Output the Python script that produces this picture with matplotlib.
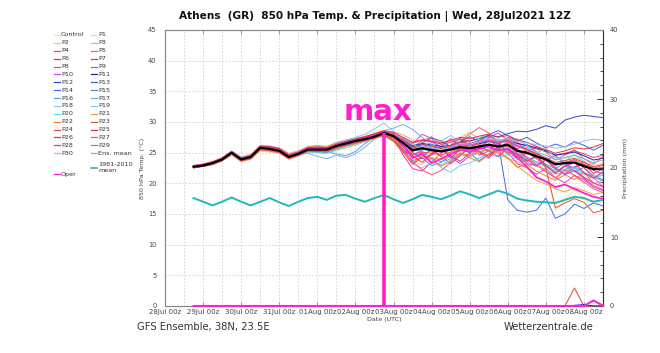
import matplotlib
matplotlib.use('Agg')
import matplotlib.pyplot as plt
import matplotlib.dates as mdates
from matplotlib.lines import Line2D
import numpy as np
import pandas as pd

# ---------------- data ----------------
times = pd.date_range('2021-07-28 18:00', periods=44, freq='6h')

t_control = [22.6,23.0,23.4,24.0,25.1,24.1,24.4,25.9,25.8,25.5,24.6,25.0,25.7,25.9,25.6,26.3,26.8,27.3,27.8,28.4,28.6,
             27.9,26.2,25.0,24.8,25.3,25.6,26.0,26.4,25.8,26.2,26.5,26.0,25.8,25.5,25.1,24.3,22.1,15.6,17.2,18.9,17.4,16.3,17.0]
t_p1 = [22.8,23.1,23.2,23.7,24.7,23.8,24.1,25.6,25.5,25.2,24.1,24.6,25.2,25.1,25.3,25.8,26.3,26.6,27.0,27.5,28.0,
        27.5,26.8,25.9,26.2,26.0,25.4,25.9,26.5,26.1,26.6,27.0,26.5,26.9,26.2,25.8,25.2,24.6,23.8,24.1,24.5,23.6,22.9,23.4]
t_p2 = [22.5,22.7,23.0,23.6,24.6,23.5,23.9,25.3,25.1,24.9,23.9,24.5,25.1,25.0,24.9,25.5,26.0,26.4,26.8,27.3,27.8,
        27.0,25.2,23.6,23.0,24.8,25.9,26.8,25.1,24.2,25.0,26.4,27.3,26.1,24.3,23.5,24.6,23.0,21.8,22.9,21.2,20.0,21.5,20.3]
t_p3 = [22.9,23.2,23.6,24.2,25.3,24.3,24.7,26.2,26.1,25.8,24.9,25.3,26.0,26.2,26.0,26.7,27.1,27.4,27.6,28.1,28.5,
        28.4,27.9,27.1,26.0,25.2,24.6,25.8,27.4,28.3,27.2,26.0,24.8,24.0,23.6,22.5,23.4,22.0,20.8,21.9,22.6,21.0,19.9,20.6]
t_p4 = [22.7,22.8,23.1,23.9,24.9,23.8,24.2,25.7,25.6,25.3,24.5,24.9,25.4,25.3,25.2,25.8,26.2,26.7,27.0,27.4,27.9,
        27.6,26.5,25.2,25.8,25.6,25.1,25.4,26.1,26.0,26.4,26.9,26.6,27.0,26.1,25.5,24.8,24.0,23.0,23.4,23.9,23.1,22.5,22.9]
t_p5 = [22.6,23.0,23.3,24.1,25.2,24.0,24.5,26.0,25.9,25.6,24.4,24.7,25.3,25.4,25.7,26.3,26.7,27.0,27.4,27.9,28.4,
        28.0,27.0,25.8,26.9,27.6,26.3,25.5,26.9,28.0,29.1,28.2,26.5,25.2,24.0,24.9,26.0,25.1,23.8,24.6,25.5,24.0,23.1,24.4]
t_p6 = [22.8,22.9,23.2,23.8,24.8,23.7,24.0,25.5,25.3,25.0,24.0,24.6,25.2,25.3,25.4,26.0,26.4,26.8,27.1,27.5,28.1,
        27.2,25.1,23.1,24.3,25.6,24.4,23.2,24.5,25.9,25.0,24.1,25.6,26.8,25.5,23.9,22.8,23.9,22.3,21.5,22.7,23.1,21.6,22.4]
t_p7 = [22.7,23.1,23.5,24.0,25.0,24.2,24.6,26.1,26.0,25.7,24.7,25.1,25.8,25.8,25.8,26.4,26.8,27.2,27.6,28.0,28.5,
        28.1,27.3,26.6,27.0,26.8,26.4,26.7,27.2,26.9,27.3,27.6,27.0,27.3,26.5,26.1,25.6,25.2,24.6,24.9,25.3,24.8,24.2,24.6]
t_p8 = [22.6,22.8,23.1,23.7,24.9,23.9,24.3,25.7,25.5,25.1,24.2,24.7,25.4,25.4,25.3,26.0,26.3,26.8,27.1,27.5,28.2,
        27.5,24.6,22.4,22.0,23.5,24.9,26.2,27.4,26.0,24.6,25.3,26.7,25.0,23.2,22.6,21.5,22.4,20.9,20.1,21.3,20.6,19.4,18.8]
t_p9 = [22.8,23.0,23.4,24.0,25.0,24.0,24.4,25.8,25.7,25.4,24.4,24.9,25.6,25.6,25.6,26.2,26.6,27.0,27.4,27.8,28.3,
        28.0,27.2,26.4,28.0,27.3,25.6,24.3,23.2,24.5,25.8,27.0,26.2,27.5,26.8,25.1,24.0,22.7,21.8,22.9,22.0,20.8,19.6,19.0]
t_p10 = [22.7,22.9,23.3,23.9,25.1,24.0,24.3,25.9,25.8,25.4,24.3,24.8,25.5,25.5,25.5,26.1,26.5,26.9,27.3,27.7,28.3,
         27.6,26.3,24.6,25.4,26.7,26.0,27.3,26.1,25.0,26.2,27.5,28.2,27.0,25.6,26.4,25.1,23.8,24.5,23.2,22.4,23.6,22.1,21.5]
t_p11 = [22.6,22.8,23.2,23.8,24.9,23.9,24.2,25.7,25.6,25.3,24.3,24.9,25.6,25.7,25.6,26.2,26.6,27.0,27.3,27.7,28.2,
         27.7,26.9,26.1,26.5,26.3,26.0,26.2,26.6,26.3,26.5,26.8,26.6,27.0,26.5,26.2,25.8,25.3,24.6,24.8,25.1,24.5,23.8,24.1]
t_p12 = [22.8,23.0,23.4,24.1,25.2,24.1,24.5,26.0,25.9,25.6,24.6,25.1,25.9,26.0,25.9,26.5,26.9,27.2,27.5,27.9,28.4,
         27.9,27.0,26.1,26.4,26.0,25.7,26.1,26.8,26.9,27.3,27.8,27.6,28.1,28.5,28.4,28.8,29.4,29.0,30.3,30.8,31.1,30.9,30.7]
t_p13 = [22.5,22.8,23.1,23.7,24.8,23.7,24.1,25.6,25.4,25.1,24.1,24.6,25.3,25.2,25.2,25.8,26.2,26.6,26.9,27.3,27.9,
         27.4,26.0,25.2,26.6,27.4,26.9,26.0,26.8,27.6,26.9,27.9,28.6,27.8,26.9,27.5,26.6,25.8,26.4,25.9,26.8,26.2,25.4,26.2]
t_p14 = [22.7,22.9,23.3,23.9,25.0,23.9,24.3,25.8,25.7,25.4,24.4,24.9,25.6,25.5,25.5,26.1,26.5,26.9,27.3,27.8,28.3,
         27.8,26.8,25.8,26.0,25.6,25.3,25.7,26.3,26.2,26.6,26.9,26.6,17.3,15.6,15.3,15.6,17.6,14.3,15.0,16.6,15.9,16.8,16.3]
t_p15 = [22.6,22.9,23.3,24.0,25.1,24.0,24.4,25.9,25.7,25.3,24.2,24.6,25.2,25.1,25.0,25.6,26.1,26.5,26.9,27.4,28.0,
         27.1,25.3,23.7,24.2,22.9,23.4,24.6,25.8,24.9,23.7,24.8,26.0,25.4,24.6,23.7,24.3,23.1,22.4,23.3,21.9,22.6,21.2,20.6]
t_p16 = [22.8,23.0,23.2,23.8,24.9,23.8,24.2,25.7,25.5,25.2,24.3,24.8,25.4,25.4,25.2,24.8,24.5,25.2,26.5,27.5,28.1,
         27.9,26.7,25.5,25.2,24.1,23.5,24.0,24.8,24.6,25.1,25.6,25.3,25.7,24.8,24.3,23.5,22.9,22.0,22.3,22.7,21.8,21.0,20.4]
t_p17 = [22.7,22.9,23.3,23.9,25.0,24.0,24.3,25.8,25.6,25.3,24.3,24.7,24.9,24.4,24.0,24.6,24.2,24.8,25.9,27.2,28.6,
         29.0,29.6,28.8,27.5,26.2,25.8,26.1,26.7,26.4,26.9,27.3,26.8,27.1,26.3,25.8,25.0,24.6,23.9,24.2,24.6,24.0,23.4,23.8]
t_p18 = [22.7,23.0,23.4,24.0,25.2,24.2,24.5,26.0,25.8,25.5,24.6,25.1,25.8,25.9,25.9,26.5,27.0,27.5,28.0,28.9,29.8,
         28.5,26.0,23.2,22.5,23.5,23.0,23.8,24.6,24.4,25.0,25.5,25.0,25.4,24.6,24.1,23.3,22.8,21.9,22.2,22.5,21.7,21.0,21.4]
t_p19 = [22.6,22.8,23.2,23.8,24.8,23.8,24.2,25.6,25.4,25.1,24.1,24.5,25.1,25.0,24.9,25.4,25.8,26.2,26.8,27.4,28.0,
         27.5,26.3,24.9,24.4,23.8,22.6,21.8,22.9,23.3,24.1,24.8,24.3,24.7,23.9,23.5,22.8,22.3,21.5,21.8,22.2,21.5,20.9,21.3]
t_p20 = [22.8,23.1,23.4,24.0,25.0,24.0,24.4,25.9,25.8,25.5,24.5,24.9,25.6,25.6,25.6,26.2,26.6,27.0,27.4,27.8,28.4,
         27.9,27.4,26.5,25.4,26.0,26.9,27.8,26.7,26.0,27.4,28.1,27.0,26.4,27.3,26.2,25.0,25.6,24.2,23.6,24.7,23.5,22.6,22.0]
t_p21 = [22.7,22.9,23.2,23.9,25.0,23.9,24.2,25.6,25.5,25.3,24.4,25.0,25.9,26.1,26.0,26.4,26.6,26.9,27.1,27.4,27.9,
         27.2,25.6,24.3,24.6,24.2,23.9,24.3,24.9,24.6,25.1,25.5,25.0,24.2,22.8,21.6,20.5,19.9,19.1,18.6,19.3,18.8,18.2,18.5]
t_p22 = [22.6,22.8,23.1,23.7,24.7,23.6,24.0,25.4,25.3,25.0,24.0,24.5,25.2,25.3,25.2,25.7,26.1,26.5,26.9,27.3,27.7,
         26.8,25.0,23.3,24.5,24.0,22.8,23.6,25.0,24.2,23.5,24.7,25.3,24.1,22.6,23.1,22.0,21.2,20.5,21.4,20.6,21.8,20.0,19.5]
t_p23 = [22.8,23.0,23.3,23.9,25.0,23.9,24.3,25.8,25.7,25.4,24.4,24.8,25.5,25.4,25.4,25.9,26.4,26.8,27.2,27.6,28.1,
         27.4,26.0,24.7,25.1,24.9,24.6,25.1,25.7,25.5,25.9,26.3,25.8,26.0,25.2,24.8,24.6,22.5,16.0,16.8,17.5,16.9,15.2,15.6]
t_p24 = [22.7,22.9,23.3,23.8,24.9,23.8,24.3,25.8,25.6,25.3,24.2,24.7,25.4,25.4,25.4,26.0,26.4,26.8,27.1,27.5,28.0,
         27.9,27.0,25.9,26.3,26.1,25.7,26.1,26.7,26.5,26.9,27.2,26.7,27.0,26.1,25.6,24.8,24.2,23.4,23.7,24.1,23.4,22.7,23.1]
t_p25 = [22.9,23.1,23.5,24.1,25.1,24.1,24.5,26.0,25.9,25.6,24.6,25.1,25.8,25.9,25.8,26.4,26.8,27.2,27.6,28.1,28.6,
         28.3,27.5,26.7,27.1,26.9,26.6,27.0,27.5,27.3,27.7,28.0,27.5,27.8,27.1,26.7,26.0,25.5,24.9,25.3,25.8,25.6,25.9,26.5]
t_p26 = [22.6,22.8,23.2,23.8,24.8,23.7,24.1,25.6,25.4,25.1,24.1,24.6,25.3,25.3,25.3,25.9,26.3,26.7,27.0,27.5,28.0,
         27.0,25.4,24.5,23.4,24.9,25.7,24.2,25.5,26.6,25.2,24.4,25.9,26.4,24.9,23.6,24.5,22.9,21.6,22.8,23.4,21.7,20.8,21.9]
t_p27 = [22.7,23.0,23.4,24.0,25.1,24.0,24.4,25.9,25.7,25.4,24.3,24.8,25.5,25.5,25.4,26.0,26.5,26.9,27.3,27.7,28.3,
         27.6,25.6,23.5,22.2,21.4,22.1,23.4,24.6,25.8,26.6,27.1,25.9,24.8,25.6,24.2,23.0,21.9,20.9,22.2,21.3,20.2,19.1,18.5]
t_p28 = [22.8,23.0,23.3,23.9,25.0,24.1,24.4,25.9,25.7,25.4,24.5,25.0,25.7,25.7,25.6,26.2,26.7,27.1,27.4,27.8,28.4,
         27.9,26.8,25.0,24.0,24.6,25.6,24.5,23.6,24.9,26.0,25.3,24.4,25.7,24.6,23.2,22.9,23.8,22.6,21.4,22.1,21.0,20.1,19.4]
t_p29 = [22.6,22.9,23.2,23.8,24.9,23.9,24.2,25.7,25.5,25.2,24.2,24.7,25.4,25.4,25.4,26.0,26.4,26.8,27.2,27.6,28.1,
         28.0,26.9,25.6,26.0,25.8,25.4,25.8,26.4,26.2,26.7,27.1,26.6,26.9,26.0,25.4,24.6,24.0,23.1,23.4,23.8,22.5,20.9,19.5]
t_p30 = [22.7,22.9,23.3,23.9,25.0,23.9,24.3,25.8,25.6,25.3,24.3,24.8,25.5,25.5,25.5,26.1,26.5,26.9,27.3,27.7,28.2,
         27.7,26.6,25.6,26.0,25.8,25.5,25.9,26.5,26.4,26.8,27.2,27.0,27.3,26.8,26.6,26.3,26.1,25.7,26.0,26.4,26.9,27.2,27.0]
t_oper = [22.8,23.0,23.3,23.9,25.0,24.0,24.3,25.8,25.7,25.4,24.4,24.9,25.6,25.6,25.6,26.2,26.6,27.0,27.4,27.8,28.4,
          27.8,26.2,24.1,24.9,23.3,24.0,24.8,25.4,25.2,25.6,26.0,25.4,25.6,24.2,22.7,21.0,20.3,19.4,19.8,19.1,18.4,17.8,17.5]
t_mean = [22.7,22.9,23.3,23.9,25.0,23.9,24.3,25.8,25.6,25.3,24.3,24.8,25.5,25.5,25.5,26.1,26.5,26.9,27.2,27.6,28.2,
          27.7,26.6,25.4,25.7,25.4,25.2,25.5,25.9,25.7,26.0,26.3,26.0,26.3,25.3,25.0,24.4,23.9,23.1,23.3,23.4,22.8,22.3,22.4]
t_clim = [17.6,17.0,16.4,17.0,17.7,17.0,16.4,17.0,17.6,16.9,16.3,17.0,17.6,17.8,17.3,18.0,18.1,17.5,17.0,17.6,18.1,
          17.4,16.8,17.4,18.1,17.8,17.4,18.0,18.7,18.2,17.6,18.2,18.8,18.3,17.5,17.2,17.0,16.9,16.8,17.3,17.8,17.6,17.0,17.3]

# precipitation (mm)
pr_oper = [0,0,0,0,0,0,0,0,0,0,0,0,0,0,0,0,0,0,0,0,0,0,
           0,0,0,0,0,0,0,0,0,0,0,0,0,0,0,0,0,0,0,0,0.8,0.05]
pr_p24 = [0,0,0,0,0,0,0,0,0,0,0,0,0,0,0,0,0,0,0,0,0,0,
          0,0,0,0,0,0,0,0,0,0,0,0,0,0,0,0,0,0,2.6,0,0,0]
pr_p11 = [0,0,0,0,0,0,0,0,0,0,0,0,0,0,0,0,0,0,0,0,0,0,
          0,0,0,0,0,0,0,0,0,0,0,0,0,0,0,0,0,0,0.1,0.2,0,0]

member_names = ['Control'] + ['P%d' % k for k in range(1, 31)]
members = [t_control, t_p1, t_p2, t_p3, t_p4, t_p5, t_p6, t_p7, t_p8, t_p9, t_p10,
           t_p11, t_p12, t_p13, t_p14, t_p15, t_p16, t_p17, t_p18, t_p19, t_p20,
           t_p21, t_p22, t_p23, t_p24, t_p25, t_p26, t_p27, t_p28, t_p29, t_p30]
member_colors = ['#f3e6a2', '#f0d98c', '#ecc878', '#f3a97c', '#e8553f', '#f2606e', '#e8305c',
                 '#f0307e', '#e840a2', '#e040c4', '#cc44e6', '#1f24a0', '#2f48c8', '#3f62d6',
                 '#3c6ee2', '#4f8fe2', '#5fa2e6', '#70b4ea', '#86c6ee', '#6ed2e2', '#5cdada',
                 '#f2a232', '#f28232', '#e85532', '#e04444', '#ea3040', '#e8344f', '#f25092',
                 '#e030b4', '#f250c6', '#a6b4ea']
for m in members:
    assert len(m) == len(times)

oper_color = '#ff20d2'
mean_color = '#000000'
clim_color = '#22b8b8'
magenta = '#ff1fce'

# ---------------- figure ----------------
W, H = 660, 353
fig = plt.figure(figsize=(W / 100, H / 100), dpi=100)
fig.patch.set_facecolor('white')
ax = fig.add_axes([165 / W, 1 - 306 / H, (603 - 165) / W, (306 - 30) / H])
ax2 = ax.twinx()

for vals, col in zip(members, member_colors):
    ax.plot(times, vals, color=col, lw=0.7, zorder=3)
ax.plot(times, t_oper, color=oper_color, lw=1.3, zorder=4)
ax.plot(times, t_mean, color=mean_color, lw=1.6, zorder=5)
ax.plot(times, t_clim, color=clim_color, lw=1.4, zorder=5)

# max annotation
imax = int(np.argmax(t_mean))
ax.vlines(times[imax], 0, t_mean[imax], color=magenta, lw=2.6, zorder=6, clip_on=False)
fig.text(378 / W, 1 - 112 / H, 'max', color=magenta, fontsize=21, fontweight='bold',
         ha='center', va='center')

# precipitation on right axis
ax2.plot(times, pr_p24, color=member_colors[24], lw=0.7, clip_on=False, zorder=3)
ax2.plot(times, pr_p11, color=member_colors[11], lw=0.7, clip_on=False, zorder=3)
ax2.plot(times, pr_oper, color=oper_color, lw=1.5, clip_on=False, zorder=4)

ax.set_ylim(0, 45)
ax2.set_ylim(0, 40)
ax.set_xlim(pd.Timestamp('2021-07-28 00:00'), pd.Timestamp('2021-08-08 12:00'))

tick_col = '#444444'
spine_col = '#8a8a8a'
ax.set_yticks(np.arange(0, 46, 5))
ax2.set_yticks(np.arange(0, 41, 10))
ax2.set_yticks(np.arange(0, 41, 2), minor=True)
ax.xaxis.set_major_locator(mdates.DayLocator())
ax.xaxis.set_minor_locator(mdates.HourLocator(byhour=[12]))
ax.xaxis.set_major_formatter(
    matplotlib.ticker.FuncFormatter(lambda x, p: mdates.num2date(x).strftime('%d%b %Hz')))

ax.tick_params(axis='x', which='major', labelsize=5.0, colors=spine_col, labelcolor=tick_col,
               direction='in', length=3, width=0.6, top=True, pad=2)
ax.tick_params(axis='x', which='minor', direction='in', length=0, top=True)
ax.tick_params(axis='y', labelsize=4.8, colors=spine_col, labelcolor=tick_col,
               direction='in', length=0, pad=6)
ax2.tick_params(axis='y', which='major', labelsize=4.8, colors='#333333', labelcolor=tick_col,
                direction='in', length=4, width=0.7, pad=5)
ax2.tick_params(axis='y', which='minor', colors='#333333', direction='in', length=2.5, width=0.6)

ax.grid(which='both', axis='x', linestyle=(0, (2, 2)), color='#d0d0d0', lw=0.6)
ax.grid(which='major', axis='y', linestyle=(0, (2, 2)), color='#d0d0d0', lw=0.6)
ax.set_axisbelow(True)

for a in (ax, ax2):
    for s in a.spines.values():
        s.set_color(spine_col)
        s.set_linewidth(0.8)
ax2.spines['right'].set_color('#333333')

ax.set_ylabel('850 hPa Temp. (°C)', fontsize=4.6, color=tick_col, labelpad=2)
ax2.set_ylabel('Precipitation (mm)', fontsize=4.6, color=tick_col, labelpad=3)
ax.set_xlabel('Date (UTC)', fontsize=4.6, color=tick_col, labelpad=1.5)

fig.text(375 / W, 1 - 17 / H,
         'Athens  (GR)  850 hPa Temp. & Precipitation | Wed, 28Jul2021 12Z',
         fontsize=7.6, fontweight='bold', ha='center', va='center', color='#111111')
fig.text(137 / W, 1 - 327 / H, 'GFS Ensemble, 38N, 23.5E', fontsize=7.2,
         ha='left', va='center', color='#333333')
fig.text(594 / W, 1 - 327 / H, 'Wetterzentrale.de', fontsize=7.2,
         ha='right', va='center', color='#333333')

# ---------------- legend (manual, two columns) ----------------
leg_fs = 4.6
def leg_entry(xpx, ypx, color, label, lw=0.9):
    fig.add_artist(Line2D([xpx / W, (xpx + 6) / W], [1 - ypx / H, 1 - ypx / H],
                          color=color, lw=lw, transform=fig.transFigure))
    fig.text((xpx + 7) / W, 1 - ypx / H, label, fontsize=leg_fs, color='#333333',
             ha='left', va='center', linespacing=1.0)

row0, dy = 35.0, 7.88
for k, (name, col) in enumerate(zip(member_names, member_colors)):
    column, row = k % 2, k // 2
    leg_entry(54 if column == 0 else 91, row0 + dy * row, col, name)
leg_entry(91, row0 + dy * 15, '#a8a8a8', 'Ens. mean')
leg_entry(91, 167.5, clim_color, '1981-2010\nmean', lw=1.2)
leg_entry(54, 174.3, oper_color, 'Oper')

fig.savefig('out.png', dpi=100, facecolor='white')
